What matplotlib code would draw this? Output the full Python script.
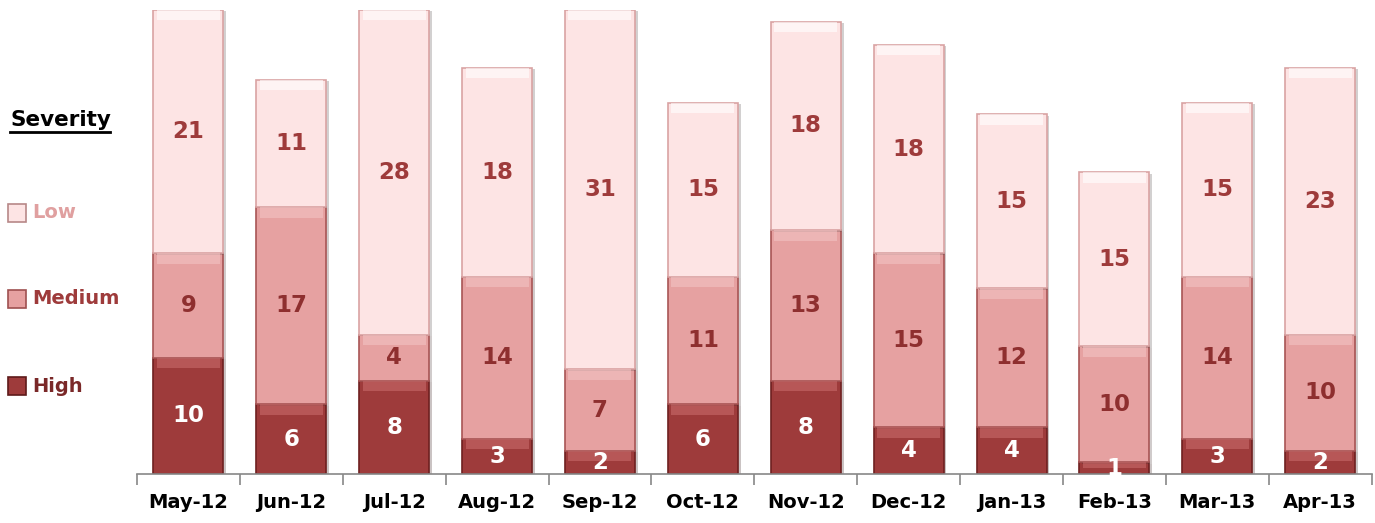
import matplotlib.pyplot as plt
import matplotlib.patheffects as pe
import numpy as np

months = ["May-12", "Jun-12", "Jul-12", "Aug-12", "Sep-12", "Oct-12",
          "Nov-12", "Dec-12", "Jan-13", "Feb-13", "Mar-13", "Apr-13"]
high = [10, 6, 8, 3, 2, 6, 8, 4, 4, 1, 3, 2]
medium = [9, 17, 4, 14, 7, 11, 13, 15, 12, 10, 14, 10]
low = [21, 11, 28, 18, 31, 15, 18, 18, 15, 15, 15, 23]

high_c = "#9e3b3b"
med_c = "#e6a1a1"
low_c = "#fde4e4"

fig = plt.figure(figsize=(13.75, 5.23), dpi=100)
ax = fig.add_axes([0.0996, 0.094, 0.898, 0.887])

x = np.arange(len(months))
w = 0.68
shadow = [pe.SimplePatchShadow(offset=(2, -1), alpha=0.25), pe.Normal()]

b1 = ax.bar(x, high, w, color=high_c, edgecolor="#6e2020", linewidth=1.2)
b2 = ax.bar(x, medium, w, bottom=high, color=med_c, edgecolor="#a85555", linewidth=1.2)
bottom_low = np.array(high) + np.array(medium)
b3 = ax.bar(x, low, w, bottom=bottom_low, color=low_c, edgecolor="#d9a3a3", linewidth=1.2)
for bars in (b1, b2, b3):
    for p in bars:
        p.set_path_effects(shadow)

# bevel highlight at the top of each segment
for vals, bots, hl in ((high, np.zeros(12), "#c86a6a"), (medium, np.array(high), "#f2c4c4"),
                       (low, bottom_low, "#ffffff")):
    hh = np.array([min(0.9, v * 0.5) for v in vals])
    ax.bar(x, hh, w * 0.9, bottom=np.array(bots) + np.array(vals) - hh,
           color=hl, alpha=0.6, linewidth=0)

for i in range(len(months)):
    ax.text(x[i], high[i] / 2, str(high[i]), ha="center", va="center",
            color="white", fontsize=16.5, fontweight="bold")
    ax.text(x[i], high[i] + medium[i] / 2, str(medium[i]), ha="center", va="center",
            color="#8e2f2f", fontsize=16.5, fontweight="bold")
    ax.text(x[i], bottom_low[i] + low[i] / 2, str(low[i]), ha="center", va="center",
            color="#9e3b3b", fontsize=16.5, fontweight="bold")

ax.set_xlim(-0.5, len(months) - 0.5)
ax.set_ylim(0, 40)
ax.set_yticks([])
ax.set_xticks(x)
ax.set_xticklabels(months, fontsize=14, fontweight="bold")
ax.set_xticks(np.arange(-0.5, len(months)), minor=True)
ax.tick_params(axis="x", which="major", length=0, pad=14)
ax.tick_params(axis="x", which="minor", length=8, color="#888888", width=1.2)
for s in ("top", "right", "left"):
    ax.spines[s].set_visible(False)
ax.spines["bottom"].set_color("#888888")
ax.spines["bottom"].set_linewidth(1.2)

# legend on the left
fig.text(10 / 1375, 1 - 120 / 523, "Severity", fontsize=15.5, fontweight="bold",
         va="center", ha="left")
fig.add_artist(plt.Line2D([10 / 1375, 110 / 1375], [1 - 132 / 523, 1 - 132 / 523],
                          color="black", linewidth=2))
legend_items = [("Low", low_c, "#b78888", "#e0a0a0", 213),
                ("Medium", med_c, "#9e5050", "#9e3b3b", 299),
                ("High", high_c, "#5e1a1a", "#7a2828", 386)]
for name, fc, ec, tc, yy in legend_items:
    fig.patches.append(plt.Rectangle((8 / 1375, 1 - (yy + 9) / 523), 18 / 1375, 18 / 523,
                                     transform=fig.transFigure, facecolor=fc,
                                     edgecolor=ec, linewidth=1.2))
    fig.text(32 / 1375, 1 - yy / 523, name, fontsize=14, fontweight="bold",
             color=tc, va="center", ha="left")

fig.savefig("out.png", dpi=100)
